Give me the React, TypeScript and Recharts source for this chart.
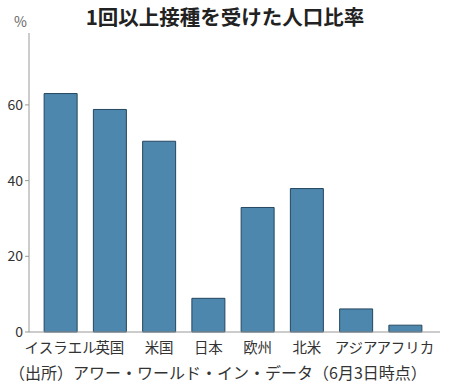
import { BarChart, Bar, XAxis, YAxis } from "recharts";

const categories = ["イスラエル", "英国", "米国", "日本", "欧州", "北米", "アジア", "アフリカ"];
const values = [63, 58.8, 50.4, 8.9, 32.9, 37.9, 6.1, 1.8];
const yTicks = [0, 20, 40, 60];

const data = categories.map((name, i) => ({ name, value: values[i] }));

const font = '"Noto Sans CJK JP", "Noto Sans", sans-serif';

export default function App() {
  return (
    <div
      style={{
        position: "absolute",
        left: 0,
        top: 0,
        width: 450,
        height: 387,
        background: "#fff",
        fontFamily: font,
      }}
    >
      {/* title */}
      <div
        style={{
          position: "absolute",
          left: 0,
          width: 450,
          top: 1,
          textAlign: "center",
          fontSize: 20.5,
          fontWeight: 700,
          color: "#222",
        }}
      >
        1回以上接種を受けた人口比率
      </div>
      <div style={{ position: "absolute", left: 14, top: 11, fontSize: 14, color: "#666" }}>%</div>

      <BarChart
        width={450}
        height={387}
        data={data}
        margin={{ top: 33, right: 10, left: 0, bottom: 25 }}
        barCategoryGap="16.5%"
      >
        <YAxis
          width={29}
          domain={[0, 79]}
          ticks={yTicks}
          interval={0}
          axisLine={{ stroke: "#999" }}
          tickLine={{ stroke: "#999" }}
          tickSize={4}
          tick={{ fontSize: 14, fill: "#333", fontFamily: font }}
        />
        <XAxis
          dataKey="name"
          height={30}
          interval={0}
          padding={{ left: 7, right: 10 }}
          axisLine={{ stroke: "#999" }}
          tickLine={false}
          tick={{ fontSize: 14.5, fill: "#333", fontFamily: font, dy: 3 }}
        />
        <Bar dataKey="value" fill="#4d87ad" stroke="#24465f" strokeWidth={1} isAnimationActive={false} />
      </BarChart>

      {/* source note */}
      <div style={{ position: "absolute", left: 9, top: 360, fontSize: 16, color: "#333", whiteSpace: "nowrap" }}>
        （出所）アワー・ワールド・イン・データ（6月3日時点）
      </div>
    </div>
  );
}
